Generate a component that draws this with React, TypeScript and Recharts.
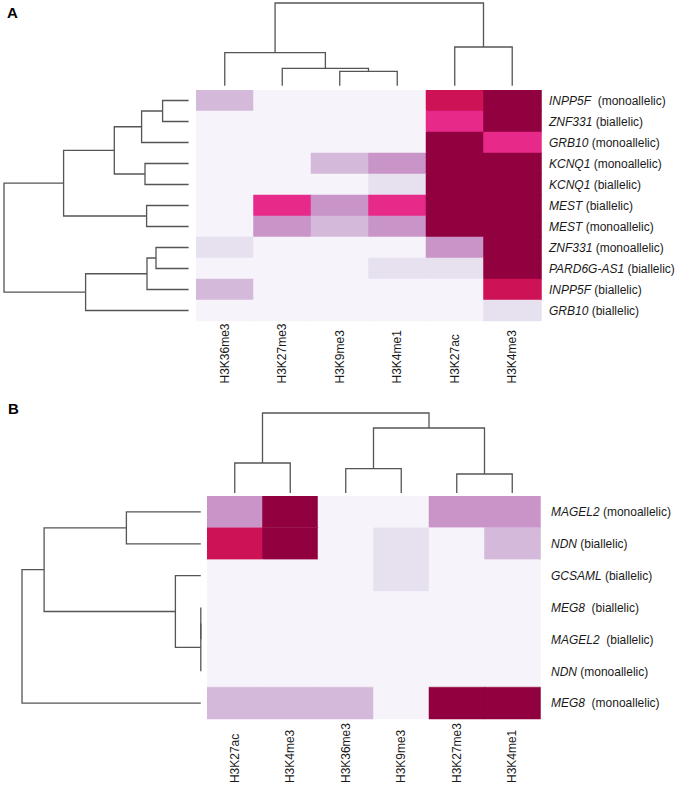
import React from 'react';
import { BarChart, Bar, Cell, XAxis, YAxis, ScatterChart, Scatter } from 'recharts';

// PuRd levels, 0 = no enrichment .. 6 = strongest
const PALETTE = ['#f6f4fa', '#e6e0ef', '#d4b9da', '#c994c7', '#e7298a', '#ce1256', '#91003f'];
const FONT = '"Liberation Sans", Arial, sans-serif';
const LINE = '#555555';

// ---- panel A ----
const marksA = ['H3K36me3', 'H3K27me3', 'H3K9me3', 'H3K4me1', 'H3K27ac', 'H3K4me3'];
const genesA = ['INPP5F', 'ZNF331', 'GRB10', 'KCNQ1', 'KCNQ1', 'MEST', 'MEST', 'ZNF331', 'PARD6G-AS1', 'INPP5F', 'GRB10'];
const allelesA = ['  (monoallelic)', ' (biallelic)', ' (monoallelic)', ' (monoallelic)', ' (biallelic)', ' (biallelic)',
  ' (monoallelic)', ' (monoallelic)', ' (biallelic)', ' (biallelic)', ' (biallelic)'];
const valuesA = [
  [2, 0, 0, 0, 5, 6],
  [0, 0, 0, 0, 4, 6],
  [0, 0, 0, 0, 6, 4],
  [0, 0, 2, 3, 6, 6],
  [0, 0, 0, 1, 6, 6],
  [0, 4, 3, 4, 6, 6],
  [0, 3, 2, 3, 6, 6],
  [1, 0, 0, 0, 3, 6],
  [0, 0, 0, 1, 1, 6],
  [2, 0, 0, 0, 0, 5],
  [0, 0, 0, 0, 0, 1],
];
// linkage: [left, right, height], new cluster ids continue after the leaves
const colLinksA = [[2, 3, 14.3], [1, 6, 17.3], [0, 7, 33], [4, 5, 38.7], [8, 9, 82.7]];
const rowLinksA = [[0, 1, 26], [11, 2, 47], [3, 4, 43.6], [12, 13, 74.3], [5, 6, 42], [14, 15, 125],
  [7, 8, 32.6], [17, 9, 41.6], [18, 10, 103], [16, 19, 184.6]];

// ---- panel B ----
const marksB = ['H3K27ac', 'H3K4me3', 'H3K36me3', 'H3K9me3', 'H3K27me3', 'H3K4me1'];
const genesB = ['MAGEL2', 'NDN', 'GCSAML', 'MEG8', 'MAGEL2', 'NDN', 'MEG8'];
const allelesB = [' (monoallelic)', ' (biallelic)', ' (biallelic)', '  (biallelic)', '  (biallelic)', ' (monoallelic)', '  (monoallelic)'];
const valuesB = [
  [3, 6, 0, 0, 3, 3],
  [5, 6, 0, 1, 0, 2],
  [0, 0, 0, 1, 0, 0],
  [0, 0, 0, 0, 0, 0],
  [0, 0, 0, 0, 0, 0],
  [0, 0, 0, 0, 0, 0],
  [2, 2, 2, 0, 6, 6],
];
const colLinksB = [[0, 1, 30], [2, 3, 24.3], [4, 5, 19], [7, 8, 65], [6, 9, 80]];
const rowLinksB = [[0, 1, 74.4], [3, 4, 0], [8, 5, 0], [2, 9, 25.4], [7, 10, 156.7], [11, 6, 178.8]];

// turn a linkage into U-shaped links (leaf position i + 0.5)
const buildLinks = (n: number, links: number[][]) => {
  const pos: number[] = [];
  const hgt: number[] = [];
  for (let i = 0; i < n; i++) { pos[i] = i + 0.5; hgt[i] = 0; }
  return links.map(([a, b, h], k) => {
    pos[n + k] = (pos[a] + pos[b]) / 2;
    hgt[n + k] = h;
    return [
      { p: pos[a], h: hgt[a] },
      { p: pos[a], h },
      { p: pos[b], h },
      { p: pos[b], h: hgt[b] },
    ];
  });
};

const PAD = 3;
const noDot = () => <g />;

const TopDendro = ({ n, links, left, top, width, height }: any) => {
  const segs = buildLinks(n, links);
  const maxH = links[links.length - 1][2];
  return (
    <div style={{ position: 'absolute', left: left - PAD, top: top - PAD }}>
      <ScatterChart width={width + PAD * 2} height={height + PAD * 2} margin={{ top: PAD, right: PAD, bottom: PAD, left: PAD }}>
        <XAxis dataKey="p" type="number" domain={[0, n]} hide />
        <YAxis dataKey="h" type="number" domain={[0, maxH]} hide />
        {segs.map((s, i) => (
          <Scatter key={i} data={s} line={{ stroke: LINE, strokeWidth: 1.3 }} shape={noDot} isAnimationActive={false} />
        ))}
      </ScatterChart>
    </div>
  );
};

const LeftDendro = ({ n, links, left, top, width, height }: any) => {
  const segs = buildLinks(n, links);
  const maxH = links[links.length - 1][2];
  return (
    <div style={{ position: 'absolute', left: left - PAD, top: top - PAD }}>
      <ScatterChart width={width + PAD * 2} height={height + PAD * 2} margin={{ top: PAD, right: PAD, bottom: PAD, left: PAD }}>
        <XAxis dataKey="h" type="number" domain={[0, maxH]} reversed hide />
        <YAxis dataKey="p" type="number" domain={[0, n]} reversed hide />
        {segs.map((s, i) => (
          <Scatter key={i} data={s} line={{ stroke: LINE, strokeWidth: 1.3 }} shape={noDot} isAnimationActive={false} />
        ))}
      </ScatterChart>
    </div>
  );
};

const LABEL_W = 136;
const AXIS_H = 72;

const Heatmap = ({ marks, genes, alleles, values, left, top, cellW, cellH, labelDrop, labelGap }: any) => {
  const w = cellW * marks.length;
  const h = cellH * genes.length;
  const data = marks.map((m: string) => {
    const d: any = { mark: m };
    genes.forEach((_: string, r: number) => { d['r' + r] = 1; });
    return d;
  });
  const ticks = genes.map((_: string, r: number) => r + 0.5);

  const markTick = (props: any) => {
    const { x, payload } = props;
    const y = h + labelDrop;
    return (
      <text x={x} y={y} transform={`rotate(-90, ${x}, ${y})`} textAnchor="start" dominantBaseline="central"
        fontSize={12} fontFamily={FONT} fill="#1a1a1a">
        {payload.value}
      </text>
    );
  };

  const geneTick = (props: any) => {
    const { y, payload } = props;
    const r = Math.floor(payload.value);
    return (
      <text x={w + labelGap} y={y} dy="0.36em" fontSize={12} fontFamily={FONT} fill="#1a1a1a" style={{ whiteSpace: 'pre' }}>
        <tspan fontStyle="italic">{genes[r]}</tspan>
        <tspan>{alleles[r]}</tspan>
      </text>
    );
  };

  return (
    <div style={{ position: 'absolute', left, top }}>
      <BarChart width={w + LABEL_W} height={h + AXIS_H} data={data} margin={{ top: 0, right: 0, bottom: 0, left: 0 }}
        barCategoryGap={0} barGap={0}>
        <XAxis dataKey="mark" axisLine={false} tickLine={false} height={AXIS_H} interval={0} tick={markTick} />
        <YAxis orientation="right" type="number" domain={[0, genes.length]} reversed ticks={ticks} width={LABEL_W}
          axisLine={false} tickLine={false} tick={geneTick} interval={0} />
        {genes.map((_: string, r: number) => (
          <Bar key={r} dataKey={'r' + r} stackId="cells" isAnimationActive={false}>
            {marks.map((m: string, c: number) => (
              <Cell key={m} fill={PALETTE[values[r][c]]} stroke={PALETTE[values[r][c]]} strokeWidth={0.5} />
            ))}
          </Bar>
        ))}
      </BarChart>
    </div>
  );
};

const panelLetter = (text: string, left: number, top: number) => (
  <div style={{ position: 'absolute', left, top, fontFamily: FONT, fontWeight: 'bold', fontSize: 15, lineHeight: '15px' }}>
    {text}
  </div>
);

export default function App() {
  return (
    <div style={{ position: 'fixed', left: 0, top: 0, width: 677, height: 786, background: '#fff', overflow: 'hidden' }}>
      {panelLetter('A', 7, 5)}
      <TopDendro n={marksA.length} links={colLinksA} left={196} top={3.3} width={345} height={82.7} />
      <LeftDendro n={genesA.length} links={rowLinksA} left={3.7} top={89.5} width={184.6} height={231} />
      <Heatmap marks={marksA} genes={genesA} alleles={allelesA} values={valuesA}
        left={196} top={89.5} cellW={57.5} cellH={21} labelDrop={62.5} labelGap={8} />

      {panelLetter('B', 8, 401)}
      <TopDendro n={marksB.length} links={colLinksB} left={207} top={413.3} width={333} height={80} />
      <LeftDendro n={genesB.length} links={rowLinksB} left={21.6} top={496} width={178.8} height={223} />
      <Heatmap marks={marksB} genes={genesB} alleles={allelesB} values={valuesB}
        left={207} top={496} cellW={55.5} cellH={31.86} labelDrop={64} labelGap={11} />
    </div>
  );
}
